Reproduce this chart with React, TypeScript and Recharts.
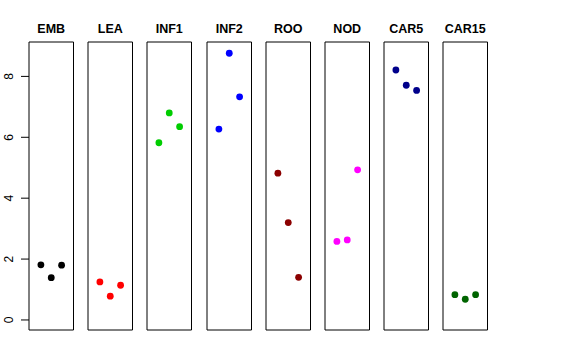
import React from 'react';
import { ScatterChart, Scatter, XAxis, YAxis, ReferenceArea } from 'recharts';

const panelNames = ['EMB', 'LEA', 'INF1', 'INF2', 'ROO', 'NOD', 'CAR5', 'CAR15'];
const positions = [1, 2, 3];
const emb = [1.81, 1.39, 1.8];
const lea = [1.25, 0.78, 1.14];
const inf1 = [5.82, 6.8, 6.35];
const inf2 = [6.27, 8.76, 7.33];
const roo = [4.82, 3.2, 1.4];
const nod = [2.58, 2.63, 4.93];
const car5 = [8.21, 7.71, 7.54];
const car15 = [0.83, 0.68, 0.83];
const panelColors = ['#000000', '#FF0000', '#00CD00', '#0000FF', '#8B0000', '#FF00FF', '#00008B', '#006400'];
const yTicks = [0, 2, 4, 6, 8];

const panelValues = [emb, lea, inf1, inf2, roo, nod, car5, car15];

const X_DOMAIN: [number, number] = [-0.15, 4.15];
const Y_DOMAIN: [number, number] = [-0.33, 9.13];

const PANEL_W = 44.5;
const PITCH = 59.2;
const FIRST_LEFT = 29;
const PAD = 10;

const Dot = (props: any) => {
  const { cx, cy, fill } = props;
  return <circle cx={cx} cy={cy} r={3.4} fill={fill} />;
};

const YTick = (props: any) => {
  const { x, y, payload } = props;
  const tx = x - 5.5;
  return (
    <text x={tx} y={y} transform={`rotate(-90, ${tx}, ${y})`} textAnchor="middle" fontSize={12} fill="#000">
      {payload.value}
    </text>
  );
};

function Panel({ idx }: { idx: number }) {
  const first = idx === 0;
  const data = positions.map((p, i) => ({ x: p, y: panelValues[idx][i] }));
  const left = first ? 0 : FIRST_LEFT + PITCH * idx - PAD;
  const leftMargin = first ? 0 : PAD;
  const width = (first ? FIRST_LEFT : PAD) + PANEL_W + PAD;
  return (
    <div style={{ position: 'absolute', left, top: 0 }}>
      <ScatterChart width={width} height={360} margin={{ top: 42, bottom: 30, left: leftMargin, right: PAD }}>
        <XAxis type="number" dataKey="x" domain={X_DOMAIN} hide allowDataOverflow />
        <YAxis
          type="number"
          dataKey="y"
          domain={Y_DOMAIN}
          hide={!first}
          width={FIRST_LEFT}
          ticks={yTicks}
          tickSize={8}
          axisLine={false}
          tickLine={{ stroke: '#000' }}
          tick={<YTick />}
          allowDataOverflow
        />
        <ReferenceArea
          x1={X_DOMAIN[0]}
          x2={X_DOMAIN[1]}
          y1={Y_DOMAIN[0]}
          y2={Y_DOMAIN[1]}
          fill="none"
          fillOpacity={0}
          stroke="#000"
          strokeWidth={1}
          ifOverflow="visible"
          label={{ value: panelNames[idx], position: 'top', offset: 9, fontSize: 12.5, fontWeight: 'bold', fill: '#000' }}
        />
        <Scatter data={data} fill={panelColors[idx]} shape={<Dot />} isAnimationActive={false} />
      </ScatterChart>
    </div>
  );
}

export default function App() {
  return (
    <div
      style={{
        position: 'absolute',
        left: 0,
        top: 0,
        width: 576,
        height: 360,
        background: '#fff',
        fontFamily: '"Liberation Sans", Arial, Helvetica, sans-serif',
      }}
    >
      {panelNames.map((_, i) => (
        <Panel key={i} idx={i} />
      ))}
    </div>
  );
}
